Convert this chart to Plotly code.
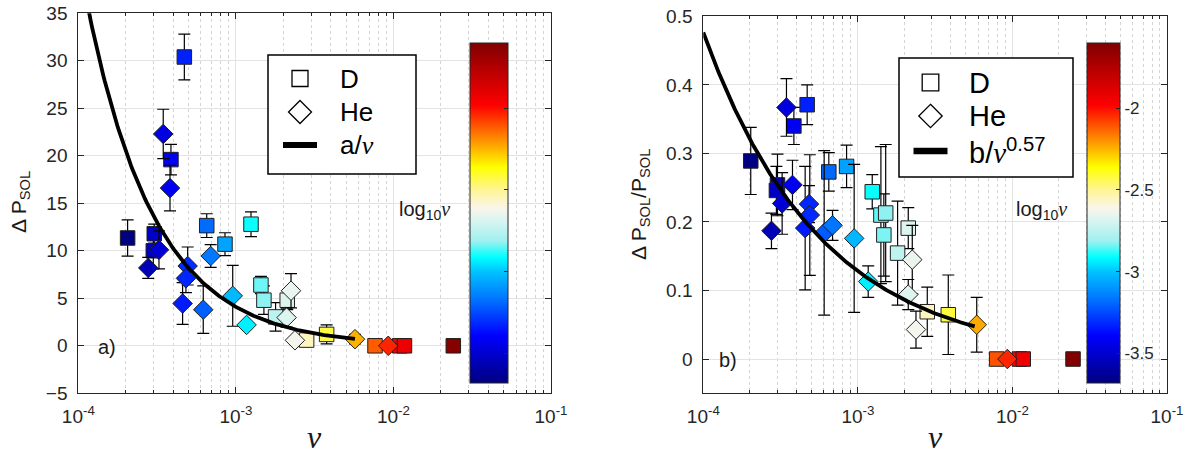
import numpy as np
import plotly.graph_objects as go

# ---------------- data ----------------
# panel a) : Delta P_SOL  (x stored as log10(nu))
d_lognu_a = [-3.687, -3.518, -3.524, -3.412, -3.327, -3.185, -3.069, -2.904, -2.841, -2.822,
             -2.748, -2.674, -2.551, -2.424, -2.117, -1.960, -1.930, -1.620]
d_dp = [11.35, 11.8, 10.0, 19.6, 30.4, 12.65, 10.7, 12.8, 6.4, 4.8,
        3.04, 4.8, 0.6, 1.2, 0.0, 0.0, 0.0, 0.0]
d_dp_err = [1.9, 1.0, 1.9, 1.6, 2.4, 1.25, 1.2, 1.3, 0.9, 1.5,
            1.5, 1.0, 0.3, 1.0, 0.0, 0.0, 0.0, 0.0]

he_lognu_a = [-3.461, -3.418, -3.488, -3.556, -3.306, -3.317, -3.338, -3.207, -3.160, -3.020,
              -2.932, -2.650, -2.678, -2.625, -2.244, -2.033]
he_dp = [22.3, 16.6, 10.1, 8.2, 8.4, 7.1, 4.45, 3.8, 9.45, 5.26,
         2.2, 5.8, 2.97, 0.58, 0.7, 0.0]
he_dp_err = [2.6, 2.4, 2.0, 1.1, 2.0, 1.5, 2.2, 2.5, 1.2, 3.2,
             0.0, 1.8, 1.0, 0.3, 0.5, 0.0]

# panel b) : Delta P_SOL / P_SOL
d_lognu_b = [-3.693, -3.520, -3.527, -3.414, -3.328, -3.188, -3.073, -2.907, -2.851, -2.820,
             -2.832, -2.743, -2.674, -2.551, -2.415, -2.102, -1.955, -1.930, -1.608]
d_ratio = [0.289, 0.254, 0.246, 0.340, 0.371, 0.273, 0.281, 0.244, 0.210, 0.213,
           0.181, 0.1545, 0.191, 0.069, 0.0646, 0.0, 0.0, 0.0, 0.0]
d_ratio_err = [0.049, 0.045, 0.035, 0.027, 0.029, 0.028, 0.031, 0.025, 0.10, 0.10,
               0.06, 0.076, 0.03, 0.036, 0.058, 0.0, 0.0, 0.0, 0.0]

he_lognu_b = [-3.462, -3.423, -3.490, -3.559, -3.316, -3.311, -3.341, -3.218, -3.164, -3.024,
              -2.933, -2.648, -2.674, -2.624, -2.231, -2.033]
he_ratio = [0.367, 0.254, 0.227, 0.187, 0.226, 0.210, 0.191, 0.184, 0.195, 0.176,
            0.113, 0.145, 0.094, 0.043, 0.050, 0.0]
he_ratio_err = [0.042, 0.036, 0.045, 0.026, 0.027, 0.088, 0.090, 0.120, 0.022, 0.108,
                0.023, 0.050, 0.022, 0.027, 0.040, 0.0]

# fit curves
fit_a_coef = 0.0041          # a / nu
fit_b_coef = 0.0025          # b / nu^0.57
fit_b_exp = 0.57
fit_nu_start = 1e-4
fit_nu_end = 5.7e-3

legend_names = ["D", "He"]
x_tick_vals = [1e-4, 1e-3, 1e-2, 1e-1]
x_tick_text = ["10<sup>-4</sup>", "10<sup>-3</sup>", "10<sup>-2</sup>", "10<sup>-1</sup>"]
ya_ticks = [-5, 0, 5, 10, 15, 20, 25, 30, 35]
yb_ticks = [0, 0.1, 0.2, 0.3, 0.4, 0.5]
yb_text = ["0", "0.1", "0.2", "0.3", "0.4", "0.5"]
cb_ticks = [-3.5, -3, -2.5, -2]
cb_text = ["-3.5", "-3", "-2.5", "-2"]
cb_min, cb_max = -3.68, -1.60

# ---------------- style ----------------
W, H = 1193, 458
FONT = "Liberation Sans, Arial, Helvetica, sans-serif"
SERIF = "Liberation Serif, Times New Roman, serif"
AX = "#262626"

stops = [(-3.68, "rgb(0,0,128)"), (-3.39, "rgb(0,0,255)"), (-3.16, "rgb(0,120,255)"),
         (-3.00, "rgb(0,195,255)"), (-2.91, "rgb(0,255,255)"), (-2.81, "rgb(160,240,240)"),
         (-2.69, "rgb(215,245,240)"), (-2.61, "rgb(250,245,235)"), (-2.50, "rgb(255,245,150)"),
         (-2.36, "rgb(255,255,0)"), (-2.17, "rgb(255,128,0)"), (-1.98, "rgb(255,0,0)"),
         (-1.60, "rgb(128,0,0)")]
cscale = [[(v - cb_min) / (cb_max - cb_min), c] for v, c in stops]


def px2x(p):
    return p / W


def px2y(p):
    return 1 - p / H


fig = go.Figure()


def add_points(lognu, yv, err, symbol, size, xa, ya, cax):
    lognu = np.array(lognu)
    fig.add_trace(go.Scatter(
        x=10 ** lognu, y=yv, mode="markers", xaxis=xa, yaxis=ya, showlegend=False,
        error_y=dict(type="data", array=err, visible=True, color="black", thickness=1.2, width=6),
        marker=dict(symbol=symbol, size=size, color=lognu, coloraxis=cax,
                    line=dict(color="#202020", width=1)),
        hoverinfo="skip"))


add_points(d_lognu_a, d_dp, d_dp_err, "square", 14.5, "x", "y", "coloraxis")
add_points(he_lognu_a, he_dp, he_dp_err, "diamond", 15, "x", "y", "coloraxis")
add_points(d_lognu_b, d_ratio, d_ratio_err, "square", 14.5, "x2", "y2", "coloraxis2")
add_points(he_lognu_b, he_ratio, he_ratio_err, "diamond", 15, "x2", "y2", "coloraxis2")

nu_fit = np.logspace(np.log10(fit_nu_start), np.log10(fit_nu_end), 200)
fig.add_trace(go.Scatter(x=nu_fit, y=fit_a_coef / nu_fit, mode="lines", name="a/ν",
                         xaxis="x", yaxis="y", showlegend=False,
                         line=dict(color="black", width=3.8), hoverinfo="skip"))
fig.add_trace(go.Scatter(x=nu_fit, y=fit_b_coef / nu_fit ** fit_b_exp, mode="lines",
                         name="b/ν^0.57", xaxis="x2", yaxis="y2", showlegend=False,
                         line=dict(color="black", width=3.8), hoverinfo="skip"))

xcommon = dict(type="log", range=[-4, -1], tickvals=x_tick_vals, ticktext=x_tick_text,
               showline=True, linecolor=AX, linewidth=1, mirror="ticks", ticks="inside",
               ticklen=6, tickcolor=AX, showgrid=True, gridcolor="#e3e3e3", gridwidth=1,
               zeroline=False, tickfont=dict(family=FONT, size=19, color=AX),
               ticklabelstandoff=6, automargin=False,
               minor=dict(dtick="D1", ticks="inside", ticklen=3, tickcolor=AX,
                          showgrid=True, gridcolor="#d4d4d4", griddash="dot", gridwidth=1))
ycommon = dict(showline=True, linecolor=AX, linewidth=1, mirror="ticks", ticks="inside",
               ticklen=6, tickcolor=AX, showgrid=True, gridcolor="#e3e3e3", gridwidth=1,
               zeroline=False, tickfont=dict(family=FONT, size=19, color=AX),
               ticklabelstandoff=6, automargin=False)

cb_common = dict(yanchor="middle", y=px2y(212.7), len=340 / H, lenmode="fraction",
                 thicknessmode="pixels", outlinewidth=1, outlinecolor=AX, xanchor="left",
                 xpad=0, ypad=0, tickvals=cb_ticks, ticktext=cb_text, ticks="inside",
                 ticklen=4, tickcolor=AX)

# ---------- hand-made legend boxes (shapes + text) ----------
shapes = []
legend_ann = []


def legend_box(x0, y0, x1, y1, cx, rows, sq_half, dia_half, line_half, line_w, tx, fs,
               line_label):
    shapes.append(dict(type="rect", xref="paper", yref="paper", x0=px2x(x0), x1=px2x(x1),
                       y0=px2y(y1), y1=px2y(y0), line=dict(color="black", width=1.5),
                       fillcolor="white", layer="above"))
    ry0, ry1, ry2 = rows
    shapes.append(dict(type="rect", xref="paper", yref="paper",
                       x0=px2x(cx - sq_half), x1=px2x(cx + sq_half),
                       y0=px2y(ry0 + sq_half), y1=px2y(ry0 - sq_half),
                       line=dict(color="black", width=1.3), fillcolor="white", layer="above"))
    path = "M {a},{b} L {c},{d} L {a},{e} L {f},{d} Z".format(
        a=px2x(cx), b=px2y(ry1 - dia_half), c=px2x(cx + dia_half), d=px2y(ry1),
        e=px2y(ry1 + dia_half), f=px2x(cx - dia_half))
    shapes.append(dict(type="path", xref="paper", yref="paper", path=path,
                       line=dict(color="black", width=1.3), fillcolor="white", layer="above"))
    shapes.append(dict(type="line", xref="paper", yref="paper",
                       x0=px2x(cx - line_half), x1=px2x(cx + line_half),
                       y0=px2y(ry2), y1=px2y(ry2), line=dict(color="black", width=line_w),
                       layer="above"))
    for txt, ry in zip(legend_names + [line_label], rows):
        legend_ann.append(dict(text=txt, x=px2x(tx), y=px2y(ry), xref="paper", yref="paper",
                               xanchor="left", yanchor="middle", showarrow=False,
                               font=dict(family=FONT, size=fs, color="black")))


nu_sym = "<span style='font-family:Liberation Serif'><i>ν</i></span>"
legend_box(268, 55, 416, 174, 300, (78.5, 112, 145), 8, 11.5, 17, 6, 338, 26,
           "a/" + nu_sym)
legend_box(899, 58, 1073, 177, 930.5, (82.5, 116, 151), 8.3, 11.7, 17, 6.5, 967, 29,
           "b/" + nu_sym + "<sup>0.57</sup>")

fig.update_layout(
    width=W, height=H, autosize=False,
    margin=dict(l=0, r=0, t=0, b=0, autoexpand=False),
    paper_bgcolor="white", plot_bgcolor="white", showlegend=False,
    xaxis=dict(domain=[px2x(78.3), px2x(551)], anchor="y", **xcommon),
    yaxis=dict(domain=[px2y(393.3), px2y(13.3)], anchor="x", range=[-5, 35],
               tickvals=ya_ticks, **ycommon),
    xaxis2=dict(domain=[px2x(703.3), px2x(1167)], anchor="y2", **xcommon),
    yaxis2=dict(domain=[px2y(393.3), px2y(16.3)], anchor="x2", range=[-0.05, 0.5],
                tickvals=yb_ticks, ticktext=yb_text, **ycommon),
    coloraxis=dict(cmin=cb_min, cmax=cb_max, colorscale=cscale,
                   colorbar=dict(x=px2x(470), thickness=38, showticklabels=False, **cb_common)),
    coloraxis2=dict(cmin=cb_min, cmax=cb_max, colorscale=cscale,
                    colorbar=dict(x=px2x(1087), thickness=33,
                                  tickfont=dict(family=FONT, size=17, color=AX), **cb_common)),
    shapes=shapes,
)

ann = [
    dict(text="Δ P<sub>SOL</sub>", x=px2x(20), y=px2y(202), textangle=-90, size=21, fam=FONT),
    dict(text="Δ P<sub>SOL</sub>/P<sub>SOL</sub>", x=px2x(640), y=px2y(205), textangle=-90,
         size=21, fam=FONT),
    dict(text="<i>ν</i>", x=px2x(315), y=px2y(437), textangle=0, size=32, fam=SERIF),
    dict(text="<i>ν</i>", x=px2x(935), y=px2y(437), textangle=0, size=32, fam=SERIF),
    dict(text="log<sub>10</sub>" + nu_sym, x=px2x(424), y=px2y(210), textangle=0, size=20,
         fam=FONT),
    dict(text="log<sub>10</sub>" + nu_sym, x=px2x(1041), y=px2y(210), textangle=0, size=20,
         fam=FONT),
    dict(text="a)", x=px2x(107), y=px2y(347), textangle=0, size=20, fam=FONT),
    dict(text="b)", x=px2x(728), y=px2y(360), textangle=0, size=20, fam=FONT),
]
fig.update_layout(annotations=[
    dict(text=a["text"], x=a["x"], y=a["y"], xref="paper", yref="paper", showarrow=False,
         textangle=a["textangle"], xanchor="center", yanchor="middle",
         font=dict(family=a["fam"], size=a["size"], color="#1a1a1a")) for a in ann]
    + legend_ann)

fig.write_html("out.html")
